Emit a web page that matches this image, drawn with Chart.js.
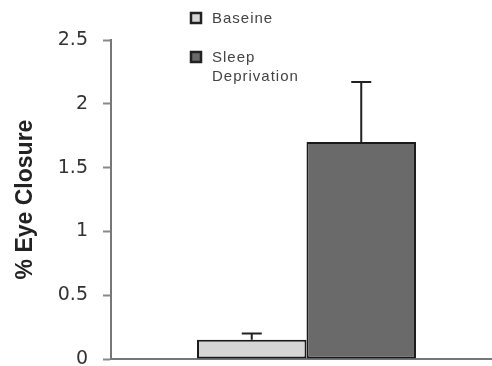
<!DOCTYPE html>
<html>
<head>
<meta charset="utf-8">
<script src="https://cdn.jsdelivr.net/npm/chart.js@4"></script>
<style>
html,body{margin:0;padding:0;background:#fff;overflow:hidden;}
#wrap{width:504px;height:366px;}
</style>
</head>
<body>
<div id="wrap"><canvas id="c" width="504" height="366"></canvas></div>
<script>
const categories = [""];
const seriesNames = ["Baseine", ["Sleep", "Deprivation"]];
const baselineValues = [0.15];
const sleepDepValues = [1.70];
const baselineErrTop = [0.20];
const sleepDepErrTop = [2.17];
const yTicks = [0, 0.5, 1, 1.5, 2, 2.5];

const baselineColor = '#d6d6d6';
const sleepColor = '#6a6a6a';

const errorPlugin = {
  id: 'errs',
  afterDatasetsDraw(chart) {
    const ctx = chart.ctx;
    const ys = chart.scales.y;
    const tops = [baselineErrTop, sleepDepErrTop];
    chart.data.datasets.forEach((ds, i) => {
      const meta = chart.getDatasetMeta(i);
      meta.data.forEach((bar, j) => {
        const x = bar.x;
        const yTop = ys.getPixelForValue(tops[i][j]);
        const yVal = ys.getPixelForValue(ds.data[j]);
        ctx.save();
        ctx.strokeStyle = '#222';
        ctx.lineWidth = 2;
        ctx.beginPath();
        ctx.moveTo(x, yVal);
        ctx.lineTo(x, yTop);
        ctx.moveTo(x - 10, yTop);
        ctx.lineTo(x + 10, yTop);
        ctx.stroke();
        ctx.restore();
      });
    });
  }
};

const legendPlugin = {
  id: 'legendCustom',
  afterDraw(chart) {
    const ctx = chart.ctx;
    const items = [
      {y: 13, color: baselineColor, lines: [].concat(seriesNames[0])},
      {y: 52, color: sleepColor, lines: [].concat(seriesNames[1])}
    ];
    ctx.save();
    items.forEach(it => {
      ctx.fillStyle = it.color;
      ctx.fillRect(191, it.y, 10, 10);
      ctx.strokeStyle = '#222';
      ctx.lineWidth = 2.5;
      ctx.strokeRect(191, it.y, 10, 10);
      ctx.fillStyle = '#444';
      ctx.font = '15px "Liberation Sans", Arial, sans-serif';
      ctx.letterSpacing = '1px';
      ctx.textBaseline = 'middle';
      it.lines.forEach((t, k) => {
        ctx.fillText(t, 212, it.y + 6 + k * 19);
      });
    });
    ctx.restore();
  }
};

new Chart(document.getElementById('c'), {
  type: 'bar',
  data: {
    labels: categories,
    datasets: [
      {label: 'Baseine', data: baselineValues, backgroundColor: baselineColor, borderColor: '#1a1a1a', borderWidth: 2, borderSkipped: false},
      {label: 'Sleep Deprivation', data: sleepDepValues, backgroundColor: sleepColor, borderColor: '#1a1a1a', borderWidth: 2, borderSkipped: false}
    ]
  },
  options: {
    responsive: false,
    animation: false,
    events: [],
    datasets: {bar: {categoryPercentage: 0.56, barPercentage: 1.0}},
    layout: {padding: {top: 40, right: 2, bottom: 0, left: 0}},
    plugins: {legend: {display: false}, tooltip: {enabled: false}},
    scales: {
      x: {
        afterFit: s => { s.height = 7; },
        ticks: {display: false},
        grid: {display: false, drawTicks: false},
        border: {display: true, color: '#777', width: 2}
      },
      y: {
        min: 0, max: 2.5,
        afterBuildTicks: s => { s.ticks = yTicks.map(v => ({value: v})); },
        afterFit: s => { s.width = 111; s.paddingTop = 0; s.paddingBottom = 0; },
        ticks: {
          padding: 15,
          color: '#333',
          font: {family: '"DejaVu Sans", sans-serif', size: 19},
          callback: v => String(v)
        },
        grid: {drawOnChartArea: false, tickLength: 8, tickColor: '#888', tickWidth: 2},
        border: {display: true, color: '#777', width: 2},
        title: {
          display: true,
          text: '% Eye Closure',
          color: '#222',
          font: {family: '"Liberation Sans", Arial, sans-serif', size: 23, weight: 'bold'},
          padding: {top: 12, bottom: 0}
        }
      }
    }
  },
  plugins: [errorPlugin, legendPlugin]
});
</script>
</body>
</html>
